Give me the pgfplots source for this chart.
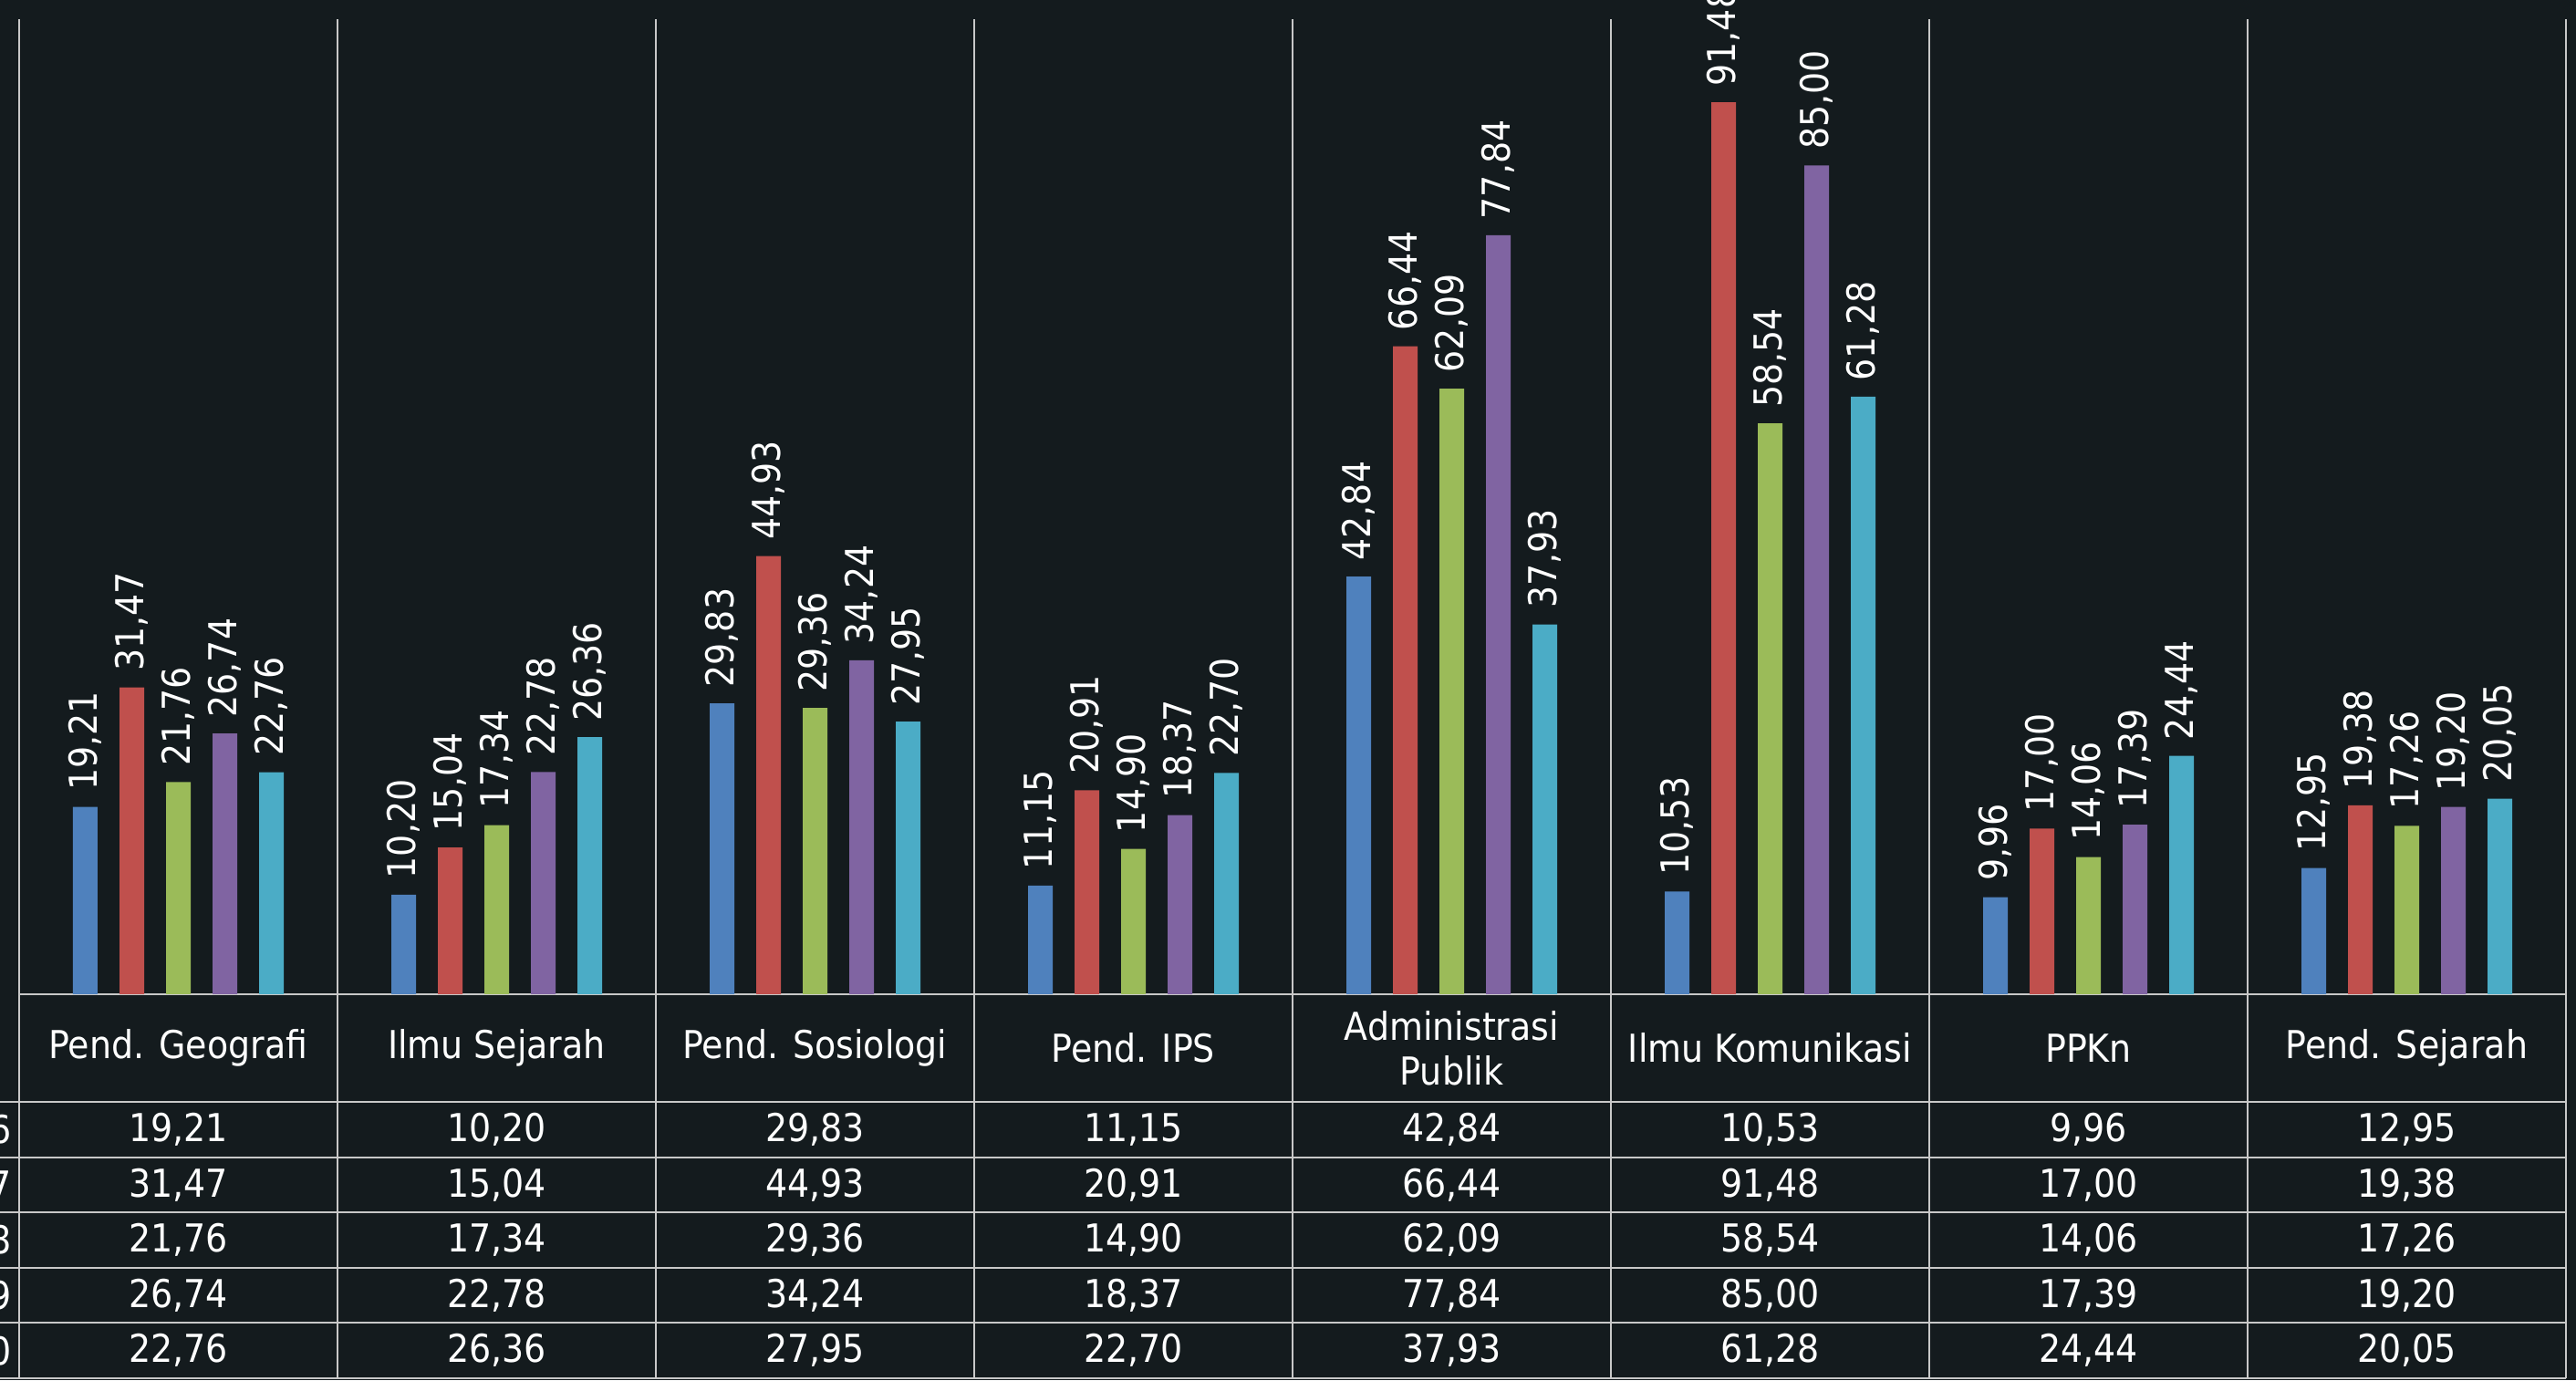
\documentclass[border=0pt]{standalone}
\usepackage{fontspec}
\setmainfont{DejaVu Sans Condensed}
\usepackage{pgfplots}
\usepackage{pgfplotstable}
\pgfplotsset{compat=1.18}
\definecolor{bgc}{RGB}{20,27,30}
\definecolor{gridc}{RGB}{200,200,200}
\definecolor{y16}{RGB}{79,129,189}
\definecolor{y17}{RGB}{192,80,77}
\definecolor{y18}{RGB}{155,187,89}
\definecolor{y19}{RGB}{128,100,162}
\definecolor{y20}{RGB}{75,172,198}
\pgfplotsset{/pgf/number format/.cd,fixed,fixed zerofill,precision=2,use comma,assume math mode=true}

% one row per study programme, one column per year (2016..2020)
\pgfplotstableread{
x a b c d e
0 19.21 31.47 21.76 26.74 22.76
1 10.20 15.04 17.34 22.78 26.36
2 29.83 44.93 29.36 34.24 27.95
3 11.15 20.91 14.90 18.37 22.70
4 42.84 66.44 62.09 77.84 37.93
5 10.53 91.48 58.54 85.00 61.28
6 9.96 17.00 14.06 17.39 24.44
7 12.95 19.38 17.26 19.20 20.05
}\datatable

\begin{document}
\begin{tikzpicture}
\fill[bgc] (0,0) rectangle (28.24cm,15.13cm);

% bars
\begin{axis}[at={(0.21cm,4.23cm)},anchor=south west,scale only axis,
  width=27.92cm,height=10.69cm,
  xmin=-0.5,xmax=7.5,ymin=0,ymax=100,
  ybar=0.24cm,bar width=0.27cm,
  axis x line*=bottom,axis y line=none,
  x axis line style={draw=gridc,line width=0.6pt,-},
  xtick={-0.5,0.5,...,7.5},xticklabels={},ytick=\empty,
  major tick length=0pt,tick style={draw=none},
  xmajorgrids,major grid style={draw=gridc,line width=0.6pt},
  clip=false,
  nodes near coords,
  nodes near coords style={rotate=90,anchor=west,inner xsep=0.17cm,inner ysep=0pt,
    text=white,font=\fontsize{12}{14}\selectfont}]
\addplot[fill=y16,draw=none] table[x=x,y=a] {\datatable};
\addplot[fill=y17,draw=none] table[x=x,y=b] {\datatable};
\addplot[fill=y18,draw=none] table[x=x,y=c] {\datatable};
\addplot[fill=y19,draw=none] table[x=x,y=d] {\datatable};
\addplot[fill=y20,draw=none] table[x=x,y=e] {\datatable};
\end{axis}

% data table
\begin{axis}[at={(0cm,0.02cm)},anchor=south west,scale only axis,
  width=28.13cm,height=4.21cm,
  xmin=-0.56017,xmax=7.5,ymin=0,ymax=6.947,
  axis line style={draw=none},
  xtick={0,...,7},
  xticklabels={Pend. Geografi,Ilmu Sejarah,Pend. Sosiologi,Pend. IPS,Administrasi\\Publik,Ilmu Komunikasi,PPKn,Pend. Sejarah},
  xticklabel pos=upper,
  xticklabel style={anchor=center,yshift=-0.59cm,align=center,text=white,
    font=\fontsize{12}{14}\selectfont},
  minor xtick={-0.5,0.5,...,7.5},xminorgrids,
  ytick={0.5,1.5,...,4.5},yticklabels={2020,2019,2018,2017,2016},
  yticklabel style={anchor=east,inner sep=0pt,xshift=0.13cm,text=white,
    font=\fontsize{12}{14}\selectfont},
  minor ytick={0,...,5},yminorgrids,
  minor grid style={draw=gridc,line width=0.6pt},
  major tick length=0pt,minor tick length=0pt,tick style={draw=none},
  clip=false,
  nodes near coords,point meta=explicit,
  nodes near coords style={anchor=center,text=white,font=\fontsize{12}{14}\selectfont}]
\addplot[only marks,mark=none] table[x=x,y expr=4.5,meta=a] {\datatable};
\addplot[only marks,mark=none] table[x=x,y expr=3.5,meta=b] {\datatable};
\addplot[only marks,mark=none] table[x=x,y expr=2.5,meta=c] {\datatable};
\addplot[only marks,mark=none] table[x=x,y expr=1.5,meta=d] {\datatable};
\addplot[only marks,mark=none] table[x=x,y expr=0.5,meta=e] {\datatable};
\end{axis}

\pgfresetboundingbox
\path[use as bounding box] (0,0) rectangle (28.24cm,15.13cm);
\end{tikzpicture}
\end{document}
